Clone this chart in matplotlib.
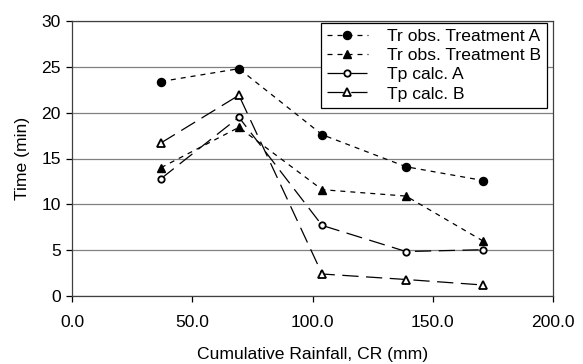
import matplotlib
matplotlib.use("Agg")
import matplotlib.pyplot as plt

plt.rcParams['font.family'] = ['Liberation Sans', 'DejaVu Sans']

cr = [37.0, 69.4, 104.0, 138.9, 170.9]
tr_a = [23.4, 24.8, 17.6, 14.1, 12.6]
tr_b = [14.0, 18.4, 11.6, 10.9, 6.0]
tp_a = [12.8, 19.5, 7.7, 4.85, 5.05]
tp_b = [16.7, 21.9, 2.4, 1.8, 1.2]

FS = 12.6

fig = plt.figure(figsize=(5.83, 3.64), dpi=100)
ax = fig.add_axes([72/583, 68/364, (553-72)/583, (296-21)/364])

ax.plot(cr, tr_a, color='black', lw=0.9, dashes=(4, 4), marker='o', ms=5.8,
        mfc='black', mec='black', label='Tr obs. Treatment A')
ax.plot(cr, tr_b, color='black', lw=0.9, dashes=(4, 4), marker='^', ms=6.3,
        mfc='black', mec='black', label='Tr obs. Treatment B')
ax.plot(cr, tp_a, color='black', lw=0.9, dashes=(13, 6), marker='o', ms=4.6,
        mfc='white', mec='black', mew=1.3, label='Tp calc. A')
ax.plot(cr, tp_b, color='black', lw=0.9, dashes=(13, 6), marker='^', ms=5.6,
        mfc='white', mec='black', mew=1.3, label='Tp calc. B')

ax.set_xlim(0, 200)
ax.set_ylim(0, 30)
ax.set_xticks([0, 50, 100, 150, 200])
ax.set_xticklabels(['0.0', '50.0', '100.0', '150.0', '200.0'])
ax.set_yticks([0, 5, 10, 15, 20, 25, 30])
ax.yaxis.grid(True, color='#808080', lw=0.9)
ax.set_axisbelow(True)
for s in ax.spines.values():
    s.set_color('#404040')
    s.set_linewidth(0.9)
ax.tick_params(direction='out', length=4, width=0.9, labelsize=FS, colors='black')
ax.tick_params(axis='x', pad=10)
ax.tick_params(axis='y', pad=4)

ax.set_xlabel('Cumulative Rainfall, CR (mm)', fontsize=FS, labelpad=12)
ax.set_ylabel('Time (min)', fontsize=FS, labelpad=8)

leg = ax.legend(loc='upper right', bbox_to_anchor=(0.988, 0.993), fontsize=FS,
                frameon=True, fancybox=False, edgecolor='black', framealpha=1,
                handlelength=2.35, labelspacing=0.22, borderpad=0.35,
                handletextpad=1.1, borderaxespad=0)
leg.get_frame().set_linewidth(0.9)

fig.savefig('out.png', dpi=100)
